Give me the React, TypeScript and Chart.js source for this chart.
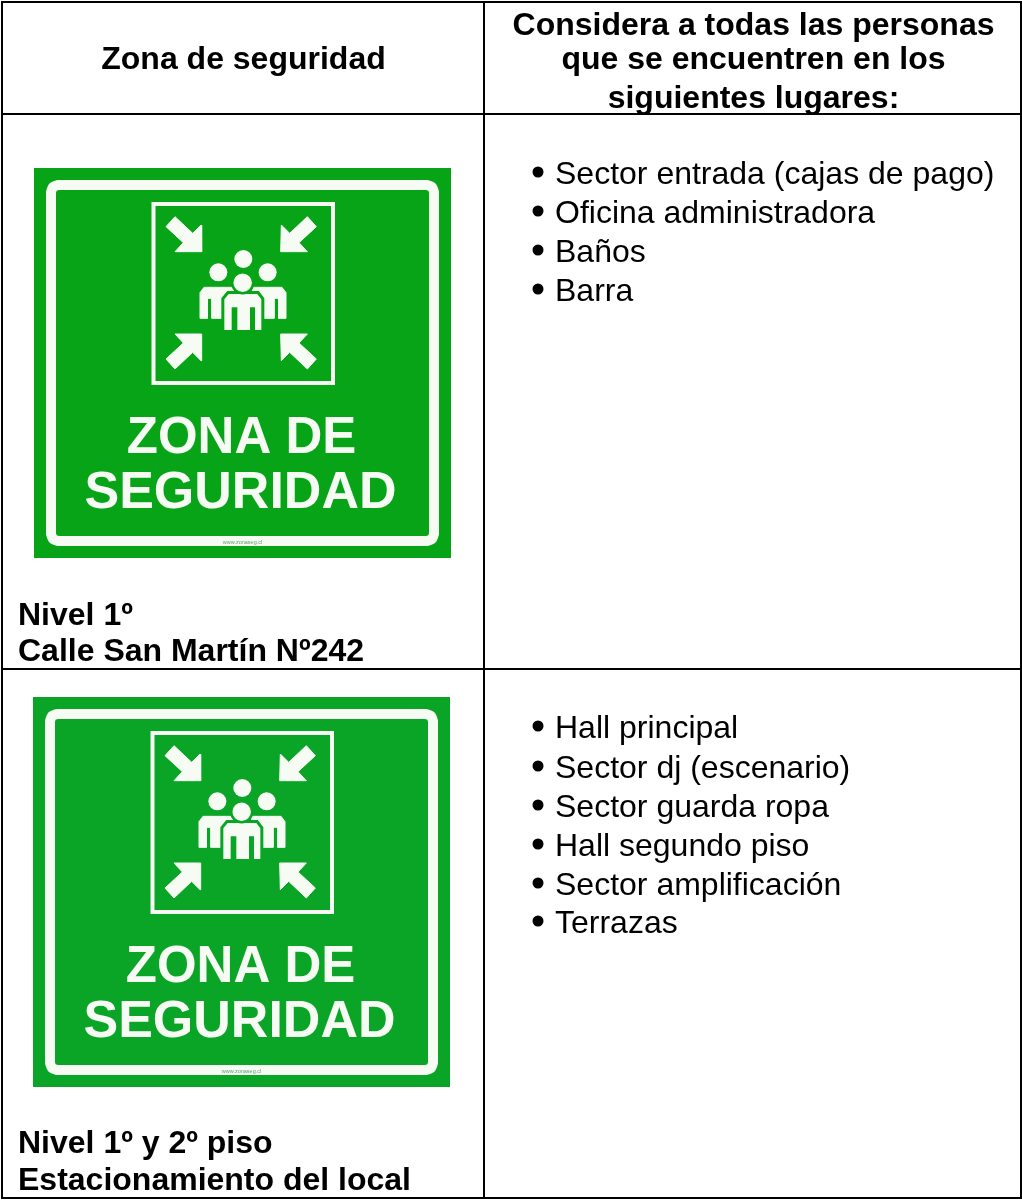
import React, { useEffect, useRef } from "react";
import { Chart, registerables } from "chart.js";

Chart.register(...registerables);

const headerLeft = ["Zona de seguridad"];
const headerRight = ["Considera a todas las personas", "que se encuentren en los", "siguientes lugares:"];
const placesFirst = ["Sector entrada (cajas de pago)", "Oficina administradora", "Baños", "Barra"];
const placesSecond = ["Hall principal", "Sector dj (escenario)", "Sector guarda ropa", "Hall segundo piso", "Sector amplificación", "Terrazas"];
const captionFirst = ["Nivel 1º", "Calle San Martín Nº242"];
const captionSecond = ["Nivel 1º y 2º piso", "Estacionamiento del local"];
const signLines = ["ZONA DE", "SEGURIDAD"];
const signFooter = "www.zonaseg.cl";

const signGreens = ["#06a416", "#0aa526"];
const WHITE = "#f6fbf4";
const BLACK = "#000000";

type P = [number, number];

const gridVerticalX = [2, 484, 1021];
const gridHorizontalY = [2, 114, 669, 1198];
const signOrigins: P[] = [[34, 168], [33, 697]];
const signSize: P = [417, 390];
const signFrame: P[] = [[17, 24], [18, 21], [19, 19], [21, 18], [24, 17], [393, 17], [396, 18], [398, 19], [399, 21], [400, 24], [400, 366], [399, 369], [398, 371], [396, 372], [393, 373], [24, 373], [21, 372], [19, 371], [18, 369], [17, 366], [17, 24]];
const signInner: P[] = [[119.5, 36], [299, 36], [299, 215], [119.5, 215], [119.5, 36]];

const arrowTL: P[] = [[135, 80], [188, 130], [213, 105], [215, 185], [135, 185], [160, 158], [108, 110]];
const arrowTR: P[] = [[532, 80], [479, 130], [454, 105], [452, 185], [532, 185], [507, 158], [559, 110]];
const arrowBL: P[] = [[135, 537], [188, 487], [213, 512], [215, 432], [135, 432], [160, 459], [108, 507]];
const arrowBR: P[] = [[532, 537], [479, 487], [454, 512], [452, 432], [532, 432], [507, 459], [559, 507]];
const bodyLeft: P[] = [[210, 385], [210, 308], [222, 292], [310, 292], [310, 385], [245, 385], [245, 325], [232, 325], [232, 385]];
const bodyRight: P[] = [[468, 385], [468, 308], [456, 292], [368, 292], [368, 385], [433, 385], [433, 325], [446, 325], [446, 385]];
const bodyCenter: P[] = [[283, 420], [283, 328], [296, 312], [382, 312], [394, 328], [394, 420], [375, 420], [375, 352], [360, 352], [360, 420], [322, 420], [322, 352], [305, 352], [305, 420]];
const headsBack: P[] = [[340, 207], [265, 247], [413, 247]];
const headFront: P[] = [[338, 278]];

const bulletFirstY = [184, 223, 262, 301];
const bulletSecondY = [738, 778, 817, 856, 895, 933];

const App = () => {
  const ref = useRef<HTMLCanvasElement>(null);
  useEffect(() => {
    const layers: any[] = [];
    const stroke = (pts: P[], color: string, width: number) =>
      layers.push({ data: pts.map(([x, y]) => ({ x, y })), showLine: true, borderColor: color, borderWidth: width, pointRadius: 0, fill: false, tension: 0, clip: false, borderJoinStyle: "miter", borderCapStyle: "square" });
    const polygon = (pts: P[], color: string, bw = 1) =>
      layers.push({ data: [...pts, pts[0]].map(([x, y]) => ({ x, y })), showLine: true, borderColor: color, borderWidth: bw, backgroundColor: color, pointRadius: 0, fill: "shape", tension: 0, clip: false });
    const dots = (pts: P[], r: number, color: string, border = color, bw = 0) =>
      layers.push({ data: pts.map(([x, y]) => ({ x, y })), showLine: false, pointRadius: r, pointBackgroundColor: color, pointBorderColor: border, pointBorderWidth: bw, clip: false });

    gridVerticalX.forEach((x) => stroke([[x, gridHorizontalY[0]], [x, gridHorizontalY[3]]], BLACK, 2));
    gridHorizontalY.forEach((y) => stroke([[gridVerticalX[0], y], [gridVerticalX[2], y]], BLACK, 2));

    signOrigins.forEach(([ox, oy], n) => {
      const green = signGreens[n];
      const local = (pts: P[]): P[] => pts.map(([x, y]) => [x + ox, y + oy]);
      // zoomed-sketch units to page units
      const icon = (pts: P[]): P[] => pts.map(([x, y]) => [x / 3 + 96 + ox, y / 3 + 22 + oy]);
      polygon(local([[0, 0], [signSize[0], 0], [signSize[0], signSize[1]], [0, signSize[1]]]), green, 0);
      layers.push({ data: local(signFrame).map(([x, y]) => ({ x, y })), showLine: true, borderColor: WHITE, borderWidth: 10, pointRadius: 0, fill: false, clip: false, tension: 0, borderJoinStyle: "round", borderCapStyle: "round" });
      stroke(local(signInner), WHITE, 4);
      [arrowTL, arrowTR, arrowBL, arrowBR, bodyLeft, bodyRight].forEach((s) => polygon(icon(s), WHITE));
      stroke(icon([...bodyCenter, bodyCenter[0]]), green, 6);
      polygon(icon(bodyCenter), WHITE, 0);
      dots(icon(headsBack), 9, WHITE);
      dots(icon(headFront), 10.5, WHITE, green, 2.5);
    });

    const bulletX = 538;
    dots([...bulletFirstY, ...bulletSecondY].map((y): P => [bulletX, y - 12]), 5.5, BLACK);

    const textPlugin = {
      id: "tableText",
      afterDatasetsDraw(c: any) {
        const { ctx } = c;
        const px = (x: number) => c.scales.x.getPixelForValue(x);
        const py = (y: number) => c.scales.y.getPixelForValue(y);
        const put = (s: string, x: number, y: number, font: string, color: string, align: CanvasTextAlign) => {
          ctx.save();
          ctx.font = font;
          ctx.fillStyle = color;
          ctx.textAlign = align;
          ctx.textBaseline = "alphabetic";
          ctx.fillText(s, px(x), py(y));
          ctx.restore();
        };
        const bold = 'bold 32px "Liberation Sans"';
        const reg = '32px "Liberation Sans"';
        put(headerLeft[0], 243.5, 69, bold, BLACK, "center");
        headerRight.forEach((s, i) => put(s, 753.5, [35, 69, 108][i], bold, BLACK, "center"));
        placesFirst.forEach((s, i) => put(s, 555, bulletFirstY[i], reg, BLACK, "left"));
        placesSecond.forEach((s, i) => put(s, 555, bulletSecondY[i], reg, BLACK, "left"));
        captionFirst.forEach((s, i) => put(s, 18, [625, 661][i], bold, BLACK, "left"));
        captionSecond.forEach((s, i) => put(s, 18, [1153, 1190][i], bold, BLACK, "left"));
        signOrigins.forEach(([ox, oy]) => {
          put(signLines[0], ox + 207.5, oy + 285, 'bold 51px "Liberation Sans"', WHITE, "center");
          put(signLines[1], ox + 206.5, oy + 340, 'bold 52px "Liberation Sans"', WHITE, "center");
          put(signFooter, ox + 208.5, oy + 375.5, '5.5px "Liberation Sans"', "#5f9f6a", "center");
        });
      },
    };

    const chart = new Chart(ref.current!, {
      type: "scatter",
      data: { datasets: layers.reverse() },
      options: {
        animation: false,
        responsive: false,
        layout: { padding: 0, autoPadding: false },
        plugins: { legend: { display: false }, tooltip: { enabled: false }, title: { display: false } },
        scales: {
          x: { type: "linear", min: 0, max: 1022, display: false },
          y: { type: "linear", min: 0, max: 1202, reverse: true, display: false },
        },
      },
      plugins: [textPlugin],
    } as any);
    return () => chart.destroy();
  }, []);
  return (
    <div style={{ position: "absolute", left: 0, top: 0, width: 1022, height: 1202, background: "#fff" }}>
      <canvas ref={ref} width={1022} height={1202} style={{ display: "block" }} />
    </div>
  );
};

export default App;
